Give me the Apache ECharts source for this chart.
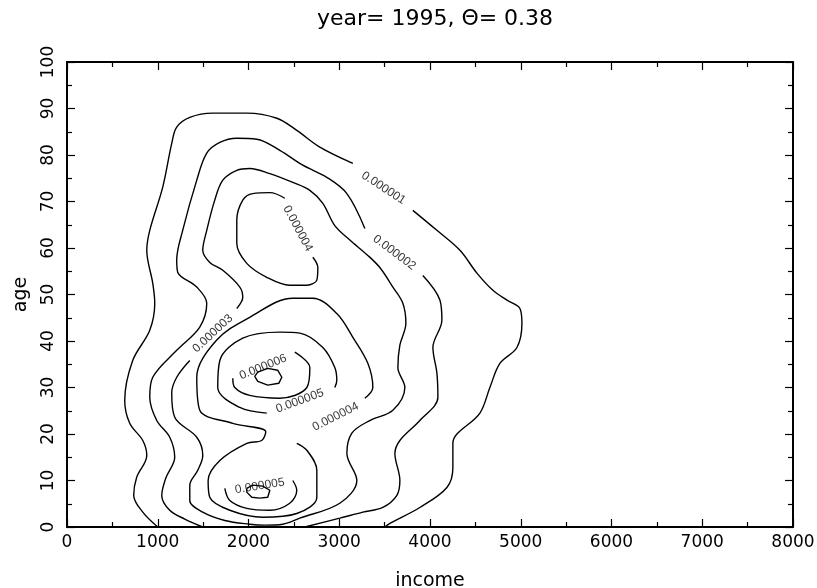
<!DOCTYPE html>
<html><head><meta charset="utf-8">
<script src="https://cdn.jsdelivr.net/npm/echarts@6/dist/echarts.min.js"></script>
<style>html,body{margin:0;padding:0;background:#fff}#c{width:817px;height:588px}</style>
</head><body><div id="c"></div>
<script>
// Contour levels (density of income/age), each contour as [income, age] points
const c1_left = [[1000,0],[835,3.2],[735,6.8],[768,10.7],[879,15.4],[835,18.6],[691,22.3],[636,27.2],[724,35.8],[912,42.3],[967,48.1],[945,52.4],[879,59.5],[912,63.8],[1055,73.1],[1154,82.5],[1209,86.0],[1353,88.1],[1606,89.0],[1981,89.0],[2312,87.9],[2532,85.3],[2786,81.7],[3150,78.2]];
const c1_right = [[3811,68.1],[4076,63.8],[4330,59.5],[4517,54.6],[4693,50.9],[4848,48.8],[4991,47.0],[5013,43.8],[4958,38.6],[4770,35.2],[4660,30.0],[4550,24.5],[4252,18.0],[4252,12.8],[4186,8.5],[3888,4.2],[3558,0.8],[3503,0]];
const c2_left = [[3282,64.2],[3084,71.7],[2863,75.2],[2598,77.8],[2345,81.0],[2091,83.4],[1871,83.6],[1684,82.7],[1540,80.4],[1430,74.6],[1275,63.8],[1209,57.4],[1220,54.8],[1430,51.6],[1540,48.1],[1463,43.0],[1209,38.0],[945,32.2],[912,27.9],[989,22.9],[1132,19.3],[1187,15.0],[1088,10.5],[1044,6.8],[1132,3.6],[1298,1.7],[1496,0]];
const c2_right = [[2620,0],[3006,1.9],[3260,3.2],[3480,4.2],[3635,6.8],[3668,10.0],[3613,15.8],[3668,18.6],[3888,22.9],[4087,27.9],[4076,33.1],[4032,38.6],[4131,44.5],[4109,48.8],[3921,54.1]];
const c3 = [[1353,35.8],[1209,32.2],[1154,28.8],[1187,23.6],[1430,19.3],[1496,15.4],[1441,12.2],[1353,9.0],[1353,5.7],[1496,3.2],[1739,1.4],[2014,0.6],[2179,0.4],[2378,0.6],[2565,1.9],[3006,5.1],[3194,10.0],[3084,15.8],[3139,20.2],[3337,22.9],[3591,25.1],[3723,30.0],[3646,34.3],[3668,39.1],[3734,43.8],[3701,48.1],[3591,51.6],[3447,55.8],[3315,58.4],[3117,61.7],[2951,64.8],[2819,69.6],[2676,72.4],[2488,74.1],[2235,76.0],[2014,77.1],[1871,76.7],[1717,74.6],[1628,70.3],[1540,63.8],[1496,59.5],[1573,56.9],[1717,55.2],[1904,51.6],[1937,49.4],[1871,47.0]];
const c4_upper = [[2709,58.0],[2764,55.8],[2753,53.1],[2643,52.0],[2455,52.0],[2201,53.7],[1981,56.7],[1871,61.0],[1871,66.0],[1937,70.3],[2047,71.7],[2235,71.9],[2400,70.7]];
const c4_lower = [[2532,18.0],[2643,16.5],[2753,12.2],[2753,6.4],[2532,2.9],[2157,2.1],[1794,3.6],[1573,6.4],[1555,10.0],[1684,14.3],[1981,18.0],[2146,18.6],[2190,20.5],[1827,22.3],[1463,25.1],[1430,32.2],[1650,40.2],[2014,45.1],[2488,49.2],[2709,49.2],[2973,45.9],[3150,40.8],[3315,35.2],[3370,30.0],[3282,27.7]];
const c5_upper = [[2951,30.0],[2973,31.5],[2951,34.3],[2819,38.6],[2565,41.7],[2345,41.9],[1937,40.6],[1684,35.8],[1661,30.0],[1904,25.7],[2201,24.5]];
const c6_upper = [[2510,37.6],[2676,34.3],[2643,30.0],[2345,27.7],[2014,28.3],[1849,30.0],[1827,32.0]];
const c7_upper = [[2102,33.3],[2212,34.1],[2323,33.7],[2367,32.2],[2334,30.9],[2212,30.5],[2102,31.3],[2069,32.4],[2102,33.3]];
const c5_lower = [[1739,8.3],[1794,5.7],[1981,4.0],[2235,3.6],[2455,5.1],[2532,7.9],[2488,10.0]];
const c6_lower = [[1981,8.3],[2047,9.0],[2157,8.8],[2235,7.9],[2212,6.4],[2124,6.2],[2036,6.4],[1981,7.5],[1981,8.3]];

const labelPos = [[3488,72.9],[3607,59.0],[1606,41.6],[2543,64.2],[2959,23.7],[2565,27.1],[2161,34.4],[2124,8.8]];
const labelText = ['0.000001','0.000002','0.000003','0.000004','0.000004','0.000005','0.000006','0.000005'];

const xTicks = { min: 0, max: 8000, interval: 1000 };
const yTicks = { min: 0, max: 100, interval: 10 };
const titleText = 'year= 1995, \u0398= 0.38';

const labelRot = [-33,-37,43,-62,27,20,22,9];

const smoothSegs = [c1_left,c1_right,c2_left,c2_right,c3,c4_upper,c4_lower,c5_upper,c6_upper,c5_lower];
const polySegs = [c7_upper,c6_lower];

const lineStyle = { color: '#000', width: 1.4 };
const series = [];
smoothSegs.forEach(d => series.push({ type:'line', data:d, showSymbol:false, smooth:0.35, lineStyle, silent:true, z:2 }));
polySegs.forEach(d => series.push({ type:'line', data:d, showSymbol:false, smooth:false, lineStyle, silent:true, z:2 }));
series.push({
  type:'scatter', symbolSize:1, itemStyle:{ color:'rgba(0,0,0,0)' }, silent:true, z:3,
  label:{ show:true, position:'inside', color:'#000', textBorderWidth:0, textBorderColor:'transparent',
    fontFamily:'Liberation Sans', fontSize:12, formatter: p => p.name },
  labelLayout:{ hideOverlap:false },
  data: labelPos.map((p,i) => ({ value:p, name:labelText[i], label:{ rotate: labelRot[i] } }))
});

const axisCommon = {
  axisLine:{ onZero:false, lineStyle:{ color:'#000', width:2 } },
  axisTick:{ inside:true, length:8, lineStyle:{ color:'#000', width:1.2 } },
  minorTick:{ show:true, splitNumber:2, length:5, lineStyle:{ color:'#000', width:1.2 } },
  splitLine:{ show:false }, minorSplitLine:{ show:false }
};
const tickFont = { fontFamily:'DejaVu Sans', fontSize:17, color:'#000', formatter: v => String(v) };
const nameFont = { fontFamily:'DejaVu Sans', fontSize:19, color:'#000' };

const chart = echarts.init(document.getElementById('c'), null, { renderer:'canvas' });
chart.setOption({
  animation:false,
  backgroundColor:'#fff',
  title:{ text:titleText, left:430, top:3, textAlign:'center', textStyle:{ fontFamily:'DejaVu Sans', fontSize:22, fontWeight:'normal', color:'#000' } },
  grid:{ left:67, right:24, top:62, bottom:61, containLabel:false, outerBoundsMode:'none' },
  xAxis:[
    Object.assign({ type:'value', position:'bottom', ...xTicks, name:'income', nameLocation:'middle', nameGap:45, nameTextStyle:nameFont,
      axisLabel:Object.assign({ margin:7 }, tickFont) }, axisCommon),
    Object.assign({ type:'value', position:'top', ...xTicks, axisLabel:{ show:false } }, axisCommon)
  ],
  yAxis:[
    Object.assign({ type:'value', position:'left', ...yTicks, name:'age', nameLocation:'middle', nameGap:36, nameRotate:90, nameTextStyle:nameFont,
      axisLabel:Object.assign({ margin:10, rotate:90 }, tickFont) }, axisCommon),
    Object.assign({ type:'value', position:'right', ...yTicks, axisLabel:{ show:false } }, axisCommon)
  ],
  series
});
</script></body></html>
